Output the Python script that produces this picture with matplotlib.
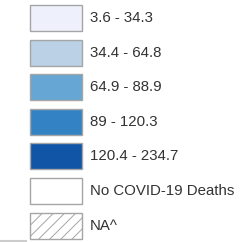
import matplotlib.pyplot as plt
import numpy as np

# Leyenda: tasa de muertes por COVID-19
etiquetas = ["3.6 - 34.3", "34.4 - 64.8", "64.9 - 88.9", "89 - 120.3",
             "120.4 - 234.7", "No COVID-19 Deaths", "NA^"]
colores = ["#eef1fc", "#bad1e6", "#66a6d4", "#3383c4", "#1155a6", "#ffffff", "#ffffff"]
tramas = ["", "", "", "", "", "", "///"]

fig = plt.figure(figsize=(2.49, 2.42), dpi=100)
ax = fig.add_axes([0, 0, 1, 1])
ax.set_xlim(0, 249)
ax.set_ylim(242, 0)
ax.axis('off')

plt.rcParams['hatch.color'] = '#8a8a8a'
plt.rcParams['hatch.linewidth'] = 0.7

y0 = 18.0
paso = 34.6
for i, (etq, col, tr) in enumerate(zip(etiquetas, colores, tramas)):
    y = y0 + i * paso
    ax.barh(y, 52, left=30, height=26, color=col, edgecolor='#a5a5a5',
            linewidth=1.0, hatch=tr)
    ax.text(90, y, etq, fontsize=10.8, color='#333333', va='center', ha='left',
            family='Liberation Sans')

# linea gris inferior
ax.plot([0, 26], [240.5, 240.5], color='#cccccc', lw=1.5)

plt.savefig('out.png', dpi=100)
